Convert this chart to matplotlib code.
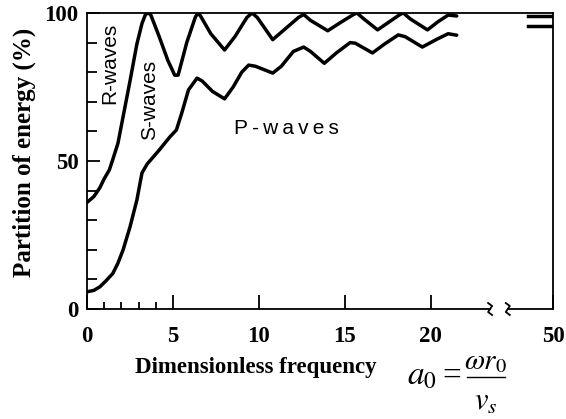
import numpy as np
import matplotlib
matplotlib.use("Agg")
import matplotlib.pyplot as plt
from matplotlib.lines import Line2D

# ----- data -----
# upper curve (boundary between S-waves and R-waves)
x_upper = [0, 0.4, 0.75, 1.0, 1.3, 1.5, 1.8, 2.1, 2.5, 2.9, 3.2, 3.4, 3.55, 3.7,
           4.2, 4.7, 5.1, 5.3, 5.8, 6.3, 6.45, 6.6, 7.2, 8.0, 8.6, 9.3, 9.6, 9.9,
           10.8, 11.6, 12.3, 12.6, 13.0, 14.0, 14.8, 15.5, 15.7, 16.1, 16.9, 17.7,
           18.2, 18.4, 18.8, 19.8, 20.4, 21.0, 21.5]
y_upper = [36, 38, 41, 44, 47, 50.5, 56, 65, 77, 89.5, 96.5, 99.5, 100, 99.5,
           92, 84, 79, 79, 90, 98.6, 100, 99, 93, 87.5, 92, 98.5, 100, 98.5,
           91, 95, 98.5, 99.5, 97.5, 94, 97, 99.5, 100, 98, 94.3, 97.5,
           99.5, 100, 98, 94.3, 97, 99.3, 99]

# lower curve (boundary between P-waves and S-waves)
x_lower = [0, 0.4, 0.75, 1.1, 1.5, 1.8, 2.1, 2.5, 2.9, 3.1, 3.2, 3.5, 3.8, 4.2,
           4.8, 5.2, 5.5, 5.9, 6.4, 6.7, 7.3, 8.0, 8.5, 9.0, 9.4, 9.8, 10.8,
           11.3, 12.0, 12.6, 13.0, 13.8, 14.5, 15.3, 15.6, 16.6, 17.3, 18.1,
           18.5, 19.5, 20.3, 21.0, 21.5]
y_lower = [5.8, 6.3, 7.5, 9.5, 12, 15.5, 20, 27.7, 36.8, 43, 46, 49, 51, 53.7,
           58, 60.5, 66, 74, 78, 77, 73.5, 71, 75, 80, 82.4, 82, 79.7,
           82, 87, 88.5, 87, 83, 86.5, 90, 89.8, 86.5, 89.5, 92.6,
           92, 88.5, 91, 93, 92.5]

# values at the high-frequency end (a0 = 50)
x_tail = [42, 50]
y_tail_upper = [99, 99]
y_tail_lower = [95.5, 95.5]

xticks = [0, 5, 10, 15, 20, 50]
xminor = [1, 2, 3, 4]
yticks = [0, 50, 100]
yminor = [10, 20, 30, 40, 60, 70, 80, 90]

# broken x axis: linear up to 22, compressed from 22 to 50
BREAK = 22.0
K = 5.1 / 28.0


def fwd(x):
    x = np.asarray(x, dtype=float)
    return np.where(x <= BREAK, x, BREAK + (x - BREAK) * K)


def inv(p):
    p = np.asarray(p, dtype=float)
    return np.where(p <= BREAK, p, BREAK + (p - BREAK) / K)


plt.rcParams['font.family'] = ['Liberation Serif', 'DejaVu Serif']
plt.rcParams['mathtext.fontset'] = 'stix'

W, H = 566, 419
fig = plt.figure(figsize=(W / 100, H / 100), dpi=100)
ax = fig.add_axes([87 / W, 1 - 309 / H, 466 / W, 296 / H])
ax.set_xscale('function', functions=(fwd, inv))
ax.set_xlim(0, 50)
ax.set_ylim(0, 100)

ax.plot(x_upper, y_upper, color='black', lw=2.5, solid_capstyle='round')
ax.plot(x_lower, y_lower, color='black', lw=2.5, solid_capstyle='round')
ax.plot(x_tail, y_tail_upper, color='black', lw=2.5)
ax.plot(x_tail, y_tail_lower, color='black', lw=2.5)

# ticks
ax.set_xticks(xticks)
ax.set_xticks(xminor, minor=True)
ax.set_yticks(yticks)
ax.set_yticks(yminor, minor=True)
ax.tick_params(axis='both', which='both', direction='in', width=1.3,
               top=False, right=False)
ax.tick_params(axis='x', which='major', length=10, pad=12)
ax.tick_params(axis='x', which='minor', length=5)
ax.tick_params(axis='y', which='major', length=9.5, pad=6)
ax.tick_params(axis='y', which='minor', length=7.5)
for lab in ax.get_xticklabels() + ax.get_yticklabels():
    lab.set_fontsize(16.5)
    lab.set_fontweight('bold')

for s in ['left', 'right', 'top']:
    ax.spines[s].set_linewidth(1.3)
ax.spines['bottom'].set_visible(False)

# bottom axis with a break
b0, b1 = 0.865, 0.903
ax.plot([0, b0], [0, 0], color='black', lw=1.3, transform=ax.transAxes, clip_on=False)
ax.plot([b1, 1], [0, 0], color='black', lw=1.3, transform=ax.transAxes, clip_on=False)
sx = np.array([-2, 2, -2, 2]) / 466
sy = np.array([6, 3, -3, -6]) / 296
for b in (b0, b1):
    ax.plot(b + sx, sy, color='black', lw=1.3, transform=ax.transAxes, clip_on=False)

# region labels
sans = ['Liberation Sans', 'DejaVu Sans']
ax.text(1.34, 83, 'R-waves', rotation=90, ha='center', va='center',
        fontsize=15, family=sans)
ax.text(3.66, 70.6, 'S-waves', rotation=90, ha='center', va='center',
        fontsize=15, family=sans)
ax.text(11.6, 61, 'P\u2009-\u2009w\u2009a\u2009v\u2009e\u2009s', ha='center', va='center',
        fontsize=15, family=sans)

# axis titles
fig.text(24 / W, 1 - 152 / H, 'Partition of energy (%)', rotation=90,
         ha='center', va='center', fontsize=18, fontweight='bold')
fig.text(256 / W, 1 - 367 / H, 'Dimensionless frequency',
         ha='center', va='center', fontsize=16.5, fontweight='bold')

# a0 = omega r0 / vs, built as a displayed fraction
fig.text(407 / W, 1 - 384 / H, r'$a_0$', ha='left', va='baseline', fontsize=24)
fig.text(452 / W, 1 - 385 / H, '=', ha='center', va='baseline', fontsize=24)
fig.text(486 / W, 1 - 369 / H, r'$\omega r_0$', ha='center', va='baseline', fontsize=21)
fig.text(486 / W, 1 - 410 / H, r'$v_s$', ha='center', va='baseline', fontsize=22)
fig.add_artist(Line2D([467 / W, 505 / W], [1 - 377 / H, 1 - 377 / H],
                      color='black', lw=1.0, transform=fig.transFigure))

fig.savefig('out.png', dpi=100)
